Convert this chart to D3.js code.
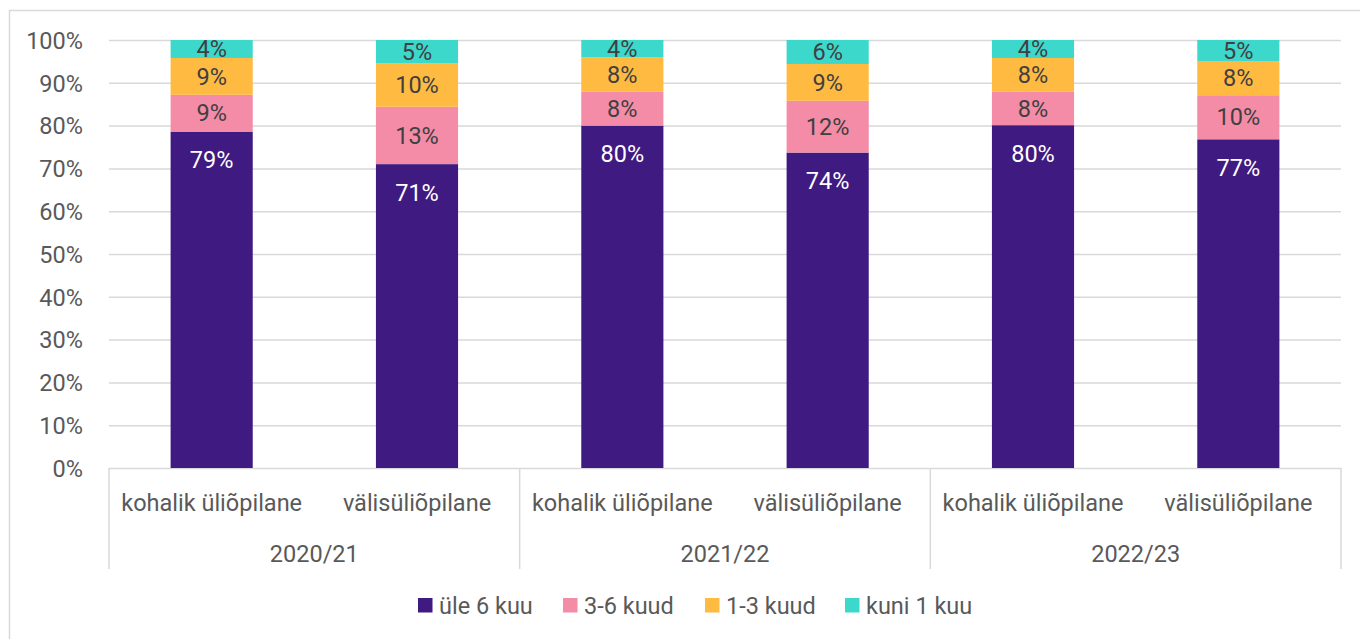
<!DOCTYPE html>
<html><head><meta charset="utf-8">
<script src="https://cdn.jsdelivr.net/npm/d3@7"></script>
<style>
html,body{margin:0;padding:0;background:#fff;}
svg{display:block;font-family:Roboto,"Noto Sans",sans-serif;}
</style></head>
<body><svg id="c" width="1360" height="639"></svg>
<script>
const years = ["2020/21", "2021/22", "2022/23"];
const groups = ["kohalik üliõpilane", "välisüliõpilane"];
const seriesNames = ["üle 6 kuu", "3-6 kuud", "1-3 kuud", "kuni 1 kuu"];
const seriesColors = ["#3F1A80", "#F48CA8", "#FFBA42", "#3DD8CC"];
const labelColors = ["#ffffff", "#404040", "#404040", "#404040"];
// values per bar (year x group order), in %
const over6 = [78.6, 71.0, 80.0, 73.7, 80.1, 76.8];
const m3to6 = [8.6, 13.4, 7.9, 12.1, 7.8, 10.3];
const m1to3 = [8.6, 10.2, 8.1, 8.6, 7.9, 8.0];
const upTo1 = [4.2, 5.4, 4.0, 5.6, 4.2, 4.9];
const yTicks = [0, 10, 20, 30, 40, 50, 60, 70, 80, 90, 100];

const seriesVals = [over6, m3to6, m1to3, upTo1];
const bars = [];
years.forEach((yr, i) => groups.forEach((g, j) => {
  const k = i * groups.length + j;
  const row = {key: yr + "|" + g, year: yr, group: g};
  seriesNames.forEach((s, si) => row[s] = seriesVals[si][k]);
  bars.push(row);
}));

const svg = d3.select("#c");
const L = 109, R = 1341, T = 40, B = 468;
const grid = "#d9d9d9";
const FS = "23.5px";

// outer border
svg.append("rect").attr("x", 9.5).attr("y", 10.5).attr("width", 1360).attr("height", 640)
  .attr("fill", "none").attr("stroke", grid).attr("stroke-width", 1.5);

const y = d3.scaleLinear().domain([0, 100]).range([B, T]);
const xYear = d3.scaleBand().domain(years).range([L, R]).padding(0);
const xGroup = d3.scaleBand().domain(groups).range([0, xYear.bandwidth()]).paddingInner(0.6).paddingOuter(0.3);

// gridlines
svg.append("g").selectAll("line").data(yTicks).join("line")
  .attr("x1", L).attr("x2", R).attr("y1", d => y(d) + 0.5).attr("y2", d => y(d) + 0.5)
  .attr("stroke", grid).attr("stroke-width", 1.5);

// y axis
const yAxis = d3.axisLeft(y).tickValues(yTicks).tickFormat(d => d + "%").tickSize(0).tickPadding(0);
const ya = svg.append("g").attr("transform", `translate(${83},0)`).call(yAxis);
ya.select(".domain").remove();
ya.selectAll("text").attr("fill", "#595959").style("font-size", FS).style("font-family", "Roboto").attr("dy", "0.35em");

const stack = d3.stack().keys(seriesNames)(bars);
const bx = d => xYear(d.data.year) + xGroup(d.data.group);

stack.forEach((layer, si) => {
  const g = svg.append("g");
  g.selectAll("rect").data(layer).join("rect")
    .attr("x", bx).attr("width", xGroup.bandwidth())
    .attr("y", d => y(d[1])).attr("height", d => y(d[0]) - y(d[1]))
    .attr("fill", seriesColors[si]);
});
stack.forEach((layer, si) => {
  svg.append("g").selectAll("text").data(layer).join("text")
    .attr("x", d => bx(d) + xGroup.bandwidth() / 2)
    .attr("y", d => si === 0 ? y(d[1]) + 28.5 : (y(d[0]) + y(d[1])) / 2)
    .attr("dy", "0.35em").attr("text-anchor", "middle")
    .attr("fill", labelColors[si]).style("font-size", FS)
    .text(d => Math.round(d[1] - d[0]) + "%");
});

// category axis separators
const seps = years.map(yr => xYear(yr)).concat([R]);
svg.append("g").selectAll("line").data(seps).join("line")
  .attr("x1", d => d).attr("x2", d => d).attr("y1", B).attr("y2", 569)
  .attr("stroke", grid).attr("stroke-width", 1.5);

// group labels
svg.append("g").selectAll("text").data(bars).join("text")
  .attr("x", d => xYear(d.year) + xGroup(d.group) + xGroup.bandwidth() / 2)
  .attr("y", 503).attr("dy", "0.35em").attr("text-anchor", "middle")
  .attr("fill", "#595959").style("font-size", FS).text(d => d.group);
// year labels
svg.append("g").selectAll("text").data(years).join("text")
  .attr("x", d => xYear(d) + xYear.bandwidth() / 2)
  .attr("y", 554).attr("dy", "0.35em").attr("text-anchor", "middle")
  .attr("fill", "#595959").style("font-size", FS).text(d => d);

// legend
const legX = [418, 563, 705, 845];
const lg = svg.append("g").selectAll("g").data(seriesNames).join("g")
  .attr("transform", (d, i) => `translate(${legX[i]},${598})`);
lg.append("rect").attr("width", 14.5).attr("height", 14.5).attr("fill", (d, i) => seriesColors[i]);
lg.append("text").attr("x", 21).attr("y", 7.5).attr("dy", "0.35em")
  .attr("fill", "#595959").style("font-size", FS).text(d => d);
</script></body></html>
